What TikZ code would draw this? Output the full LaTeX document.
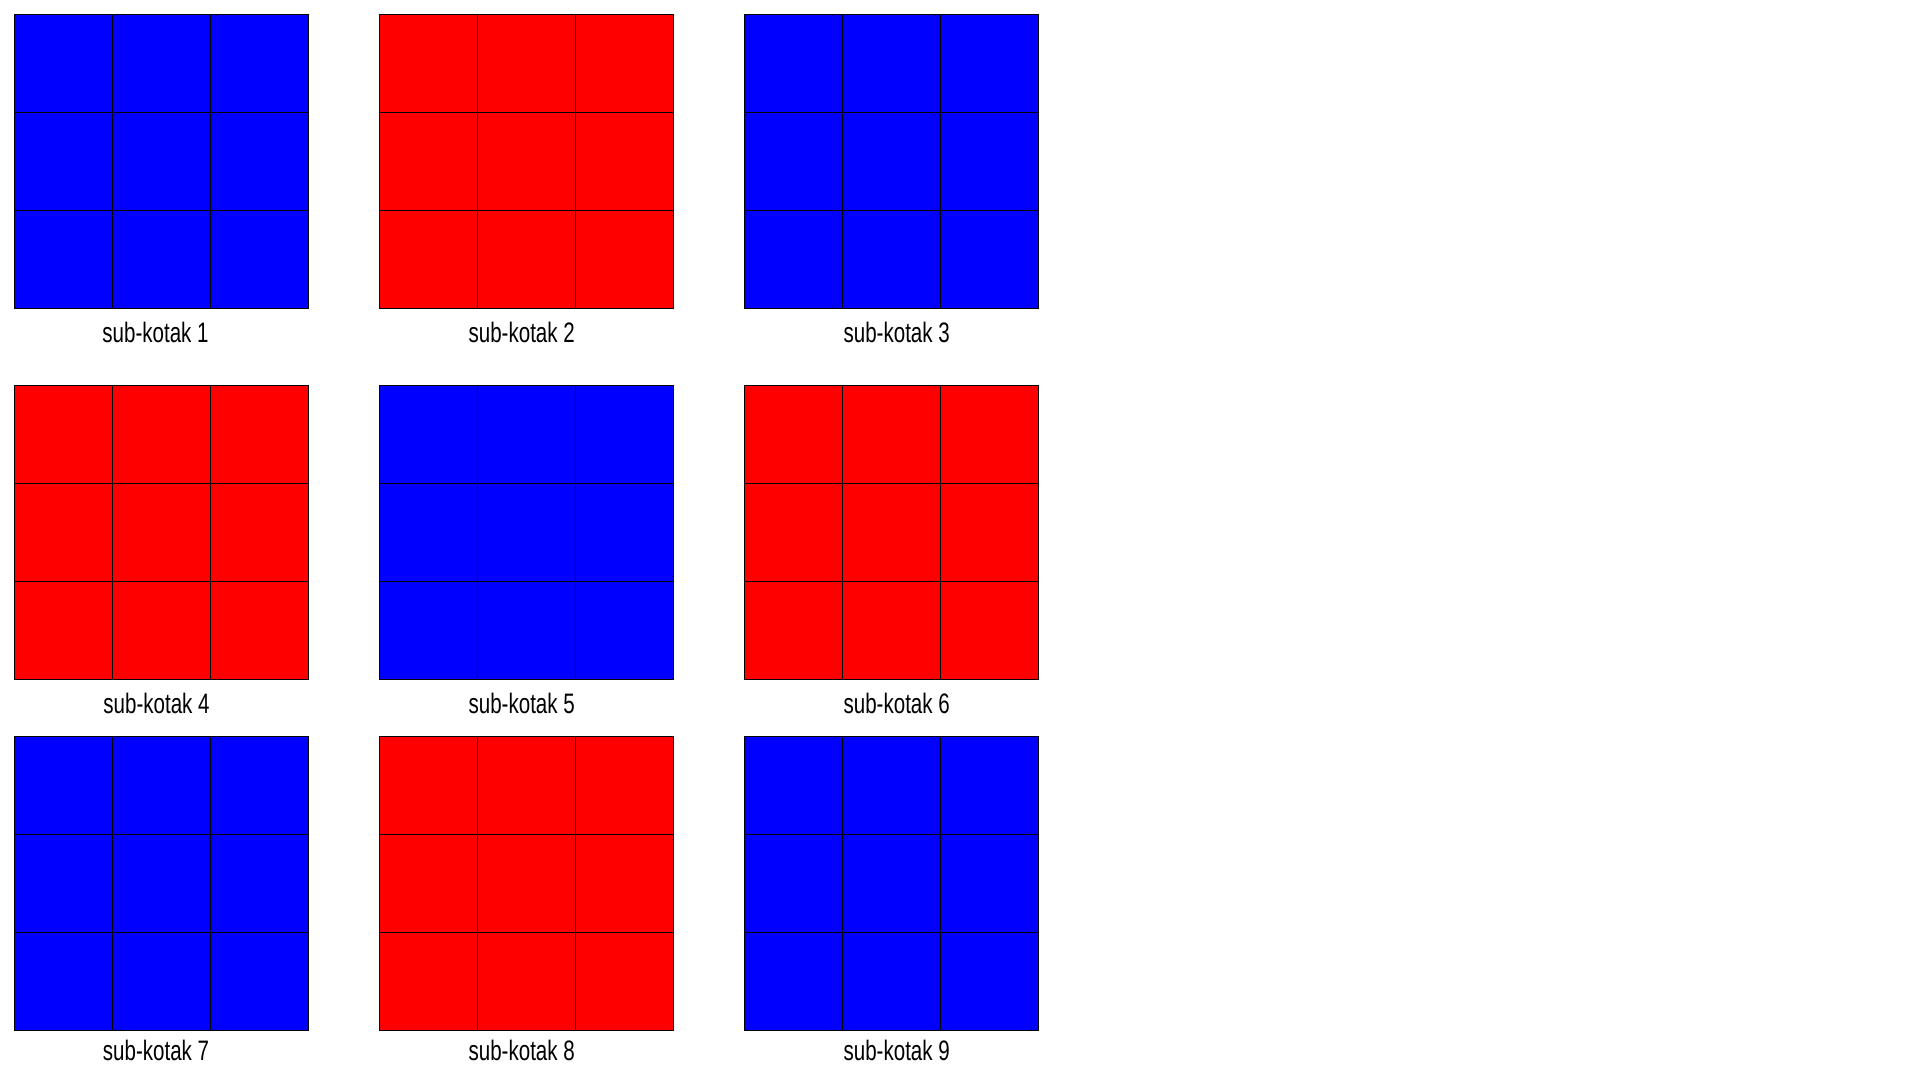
\documentclass[tikz,border=0pt]{standalone}
\usepackage{fontspec}
\setmainfont{Liberation Sans}[FakeStretch=0.73]
\usetikzlibrary{positioning}

\tikzset{
  cell/.style={draw=black, line width=0.3pt, minimum size=0.98cm,
               inner sep=0pt, outer sep=0pt},
  sublabel/.style={text=black, font=\fontsize{8}{9.6}\selectfont,
                   inner sep=0pt, anchor=base}
}

\begin{document}
\begin{tikzpicture}[x=0.01cm, y=-0.01cm]

% Canvas
\useasboundingbox (0,0) rectangle (1920,1080);
\fill[white] (0,0) rectangle (1920,1080);

% Sub-boxes: number/colour/left/top/label x/label baseline
\foreach \n/\col/\cx/\ry/\lx/\by in {
    1/blue/14.3/14.7/155.5/343, 2/red/379.7/14.7/521.7/343, 3/blue/744.3/14.7/896.7/343,
    4/red/14.3/385.8/156.5/714, 5/blue/379.7/385.8/521.7/714, 6/red/744.3/385.8/896.7/714,
    7/blue/14.3/736.5/156/1061, 8/red/379.7/736.5/521.7/1061, 9/blue/744.3/736.5/896.7/1061}{
  \foreach \r in {0,1,2}{
    \foreach \c in {0,1,2}{
      \node[cell, fill=\col] (k\n-\r\c) at ({\cx+49+98*\c},{\ry+49+98*\r}) {};
    }
  }
  \node[sublabel] (lbl\n) at (\lx,\by) {sub-kotak \n};
}

\end{tikzpicture}
\end{document}
